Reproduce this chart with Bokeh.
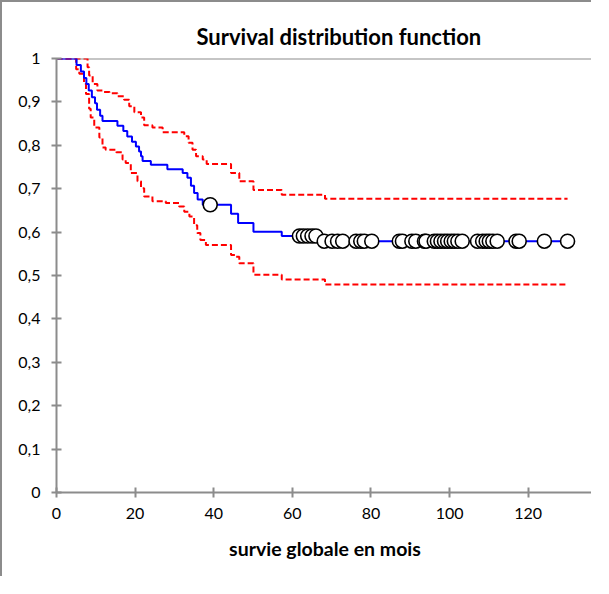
from bokeh.plotting import figure
from bokeh.models import Range1d, Span, FixedTicker
from bokeh.embed import file_html
from bokeh.resources import INLINE

# Kaplan-Meier estimate (time in months, survival after that time)
km_t = [0, 5.1, 6.2, 7.0, 7.6, 8.2, 9.0, 9.8, 10.3, 11.1, 11.7, 15.5, 17.0, 18.0, 19.2,
        20.2, 21.0, 21.5, 21.9, 24.0, 28.2, 32.1, 33.3, 34.2, 35.0, 35.9, 37.2, 44.4,
        46.2, 50.1, 57.3, 67.0]
km_s = [1.0, 0.985, 0.970, 0.955, 0.941, 0.926, 0.911, 0.897, 0.882, 0.868, 0.856, 0.845,
        0.833, 0.820, 0.808, 0.797, 0.786, 0.775, 0.764, 0.755, 0.745, 0.736, 0.725, 0.707,
        0.690, 0.675, 0.663, 0.642, 0.621, 0.601, 0.591, 0.579]

# upper confidence bound
up_t = [0, 7.9, 8.3, 9.2, 10.4, 11.7, 13.5, 15.5, 17.2, 18.5, 19.8, 21.5, 22.3, 24.4,
        27.0, 32.5, 33.6, 34.6, 35.5, 37.2, 38.2, 44.4, 46.5, 50.1, 57.3, 68.3]
up_s = [1.0, 0.980, 0.961, 0.941, 0.926, 0.923, 0.920, 0.913, 0.905, 0.890, 0.876, 0.864,
        0.846, 0.841, 0.830, 0.821, 0.806, 0.790, 0.775, 0.767, 0.757, 0.736, 0.717, 0.697,
        0.686, 0.677]

# lower confidence bound
lo_t = [0, 5.0, 5.8, 7.0, 7.5, 8.3, 8.7, 9.6, 10.9, 11.7, 12.5, 15.2, 16.8, 17.6, 18.9,
        20.6, 21.5, 22.3, 24.4, 27.8, 31.2, 32.5, 33.8, 35.0, 35.8, 36.6, 38.0, 44.4, 45.5,
        46.5, 50.1, 57.3, 68.3]
lo_s = [1.0, 0.975, 0.965, 0.941, 0.918, 0.884, 0.864, 0.841, 0.818, 0.795, 0.790, 0.784,
        0.767, 0.759, 0.736, 0.717, 0.701, 0.682, 0.671, 0.667, 0.659, 0.647, 0.636, 0.616,
        0.598, 0.582, 0.570, 0.547, 0.543, 0.528, 0.502, 0.491, 0.479]

t_end = 130.0

# censored observations
cens_t = [39.1, 61.8, 62.8, 63.9, 65.0, 66.0, 68.1, 70.1, 71.5, 72.8, 76.2, 77.4, 78.3,
          80.2, 87.2, 88.0, 90.4, 91.4, 93.6, 94.0, 96.1, 96.9, 97.8, 98.7, 99.5, 100.4,
          101.2, 102.1, 103.2, 107.1, 108.4, 109.3, 110.1, 111.0, 112.1, 116.9, 117.7,
          124.1, 130.0]

x_ticks = [0, 20, 40, 60, 80, 100, 120, 140]
y_ticks = [0.0, 0.1, 0.2, 0.3, 0.4, 0.5, 0.6, 0.7, 0.8, 0.9, 1.0]
y_labels = ["0", "0,1", "0,2", "0,3", "0,4", "0,5", "0,6", "0,7", "0,8", "0,9", "1"]


def surv_at(t, ts, ss):
    v = ss[0]
    for a, b in zip(ts, ss):
        if a <= t:
            v = b
    return v


FONT = "Lato"
GRAY = "#8c8c8c"

p = figure(width=591, height=576, output_backend="svg", toolbar_location=None,
           x_range=Range1d(0, 136.6), y_range=Range1d(0, 1),
           min_border_left=54, min_border_right=0, min_border_top=56, min_border_bottom=86)
p.styles = {"border-left": "2px solid #8c8c8c", "border-top": "2px solid #8c8c8c"}
p.outline_line_color = None
p.grid.visible = False
p.background_fill_color = "white"
p.border_fill_color = "white"

p.title.text = "Survival distribution function"
p.title.align = "left"
p.title.offset = 140
p.title.standoff = 17
p.title.text_font = FONT
p.title.text_font_size = "22px"
p.title.text_font_style = "bold"
p.title.text_color = "black"

p.add_layout(Span(location=1.0, dimension="width", line_color=GRAY, line_width=2,
                  level="underlay"))

p.step(up_t + [t_end], up_s + [up_s[-1]], mode="after", line_color="red", line_width=2,
       line_dash="6 3")
p.step(lo_t + [t_end], lo_s + [lo_s[-1]], mode="after", line_color="red", line_width=2,
       line_dash="6 3")
p.step(km_t + [t_end], km_s + [km_s[-1]], mode="after", line_color="blue", line_width=2)

cens_s = [surv_at(t, km_t, km_s) for t in cens_t]
p.scatter(cens_t, cens_s, marker="circle", size=14, fill_color="white",
          line_color="black", line_width=1.6)

p.xaxis.ticker = FixedTicker(ticks=x_ticks)
p.yaxis.ticker = FixedTicker(ticks=y_ticks)
p.yaxis.major_label_overrides = dict(zip(y_ticks, y_labels))
p.xaxis.axis_label = "survie globale en mois"
p.xaxis.axis_label_text_font = FONT
p.xaxis.axis_label_text_font_size = "19.5px"
p.xaxis.axis_label_text_font_style = "bold"
p.xaxis.axis_label_text_color = "black"
p.xaxis.axis_label_standoff = 15
for ax in (p.xaxis, p.yaxis):
    ax.axis_line_color = GRAY
    ax.axis_line_width = 2
    ax.major_tick_line_color = GRAY
    ax.major_tick_line_width = 2
    ax.major_tick_in = 5
    ax.major_tick_out = 5
    ax.minor_tick_line_color = None
    ax.major_label_text_font = FONT
    ax.major_label_text_font_size = "16px"
    ax.major_label_text_color = "black"
p.xaxis.major_label_standoff = 10
p.yaxis.major_label_standoff = 11

open("out.html", "w").write(file_html(p, INLINE))
